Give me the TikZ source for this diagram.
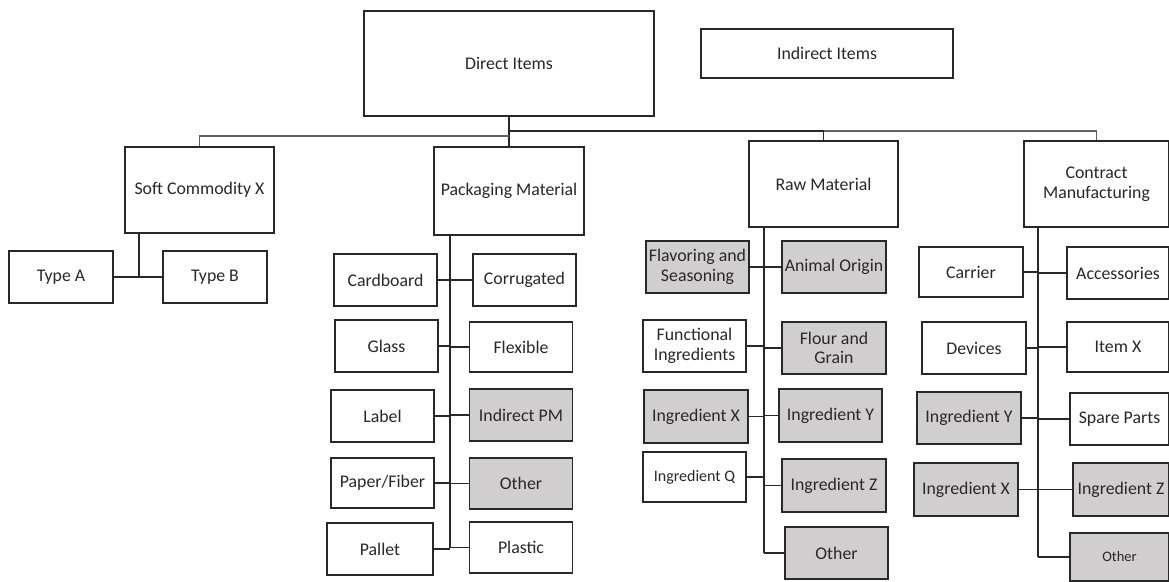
\documentclass[tikz,border=0pt]{standalone}
\usepackage{fontspec}
\setmainfont{Carlito}
\definecolor{boxgray}{RGB}{208,206,206}
\definecolor{ink}{RGB}{40,40,40}
\begin{document}
\begin{tikzpicture}[x=1pt,y=-1pt,
  box/.style={draw=ink, line width=1.2pt, fill=white, minimum width=103pt, minimum height=52pt,
     inner sep=1pt, align=center, text=ink, font=\fontsize{17.8}{19.5}\selectfont},
  shaded/.style={box, fill=boxgray},
  bigbox/.style={box, minimum width=149pt, minimum height=86pt},
  link/.style={draw=ink, line width=1.7pt},
  linkgray/.style={draw=black!62, line width=1.7pt}]
\useasboundingbox (0,0) rectangle (1169,581);
% top level
\node[box, minimum width=290pt, minimum height=105pt] (direct) at (509,63.5) {Direct Items};
\node[box, minimum width=252pt, minimum height=49pt] (indirect) at (827,53.5) {Indirect Items};
% level 2
\node[bigbox] (soft) at (199.5,190) {Soft Commodity X};
\node[bigbox, minimum width=150pt, minimum height=88pt] (pack) at (509,191) {Packaging Material};
\node[bigbox] (raw) at (823.5,184) {Raw Material};
\node[bigbox, minimum width=145pt] (cm) at (1096.5,184) {Contract\\Manufacturing};
% soft commodity children
\node[box, minimum width=104pt] (typeA) at (61,277) {Type A};
\node[box, minimum width=104pt] (typeB) at (215,277) {Type B};
% packaging children
\node[box] (cardboard) at (385.5,280) {Cardboard};
\node[box] (corrugated) at (524.5,280) {Corrugated};
\node[box] (glass) at (386.5,346) {Glass};
\node[box, minimum height=50pt] (flexible) at (521,347) {Flexible};
\node[box] (label) at (382.5,416) {Label};
\node[shaded] (indpm) at (521,415) {Indirect PM};
\node[box, minimum height=50pt] (paper) at (382.5,483) {Paper/Fiber};
\node[shaded, minimum height=51pt] (otherpm) at (521,483.5) {Other};
\node[box, minimum width=106pt] (pallet) at (380,549) {Pallet};
\node[box, minimum height=51pt] (plastic) at (521,547.5) {Plastic};
% raw material children
\node[shaded] (flav) at (697.5,267) {Flavoring and\\Seasoning};
\node[shaded, minimum width=104pt] (animal) at (834,267) {Animal Origin};
\node[box] (func) at (694.5,346) {Functional\\Ingredients};
\node[shaded, minimum width=104pt] (flour) at (834,348) {Flour and\\Grain};
\node[shaded, minimum width=104pt, minimum height=53pt] (ingx) at (696,416.5) {Ingredient X};
\node[shaded, minimum height=53pt] (ingy) at (830.5,415.5) {Ingredient Y};
\node[box, minimum height=50pt, font=\fontsize{16}{18}\selectfont] (ingq) at (694.5,477) {Ingredient Q};
\node[shaded, minimum width=104pt, minimum height=53pt] (ingz) at (834,485.5) {Ingredient Z};
\node[shaded] (otherrm) at (836.5,553) {Other};
% contract manufacturing children
\node[box, minimum width=104pt, minimum height=50pt] (carrier) at (971,272) {Carrier};
\node[box, minimum width=102pt] (access) at (1118,273) {Accessories};
\node[box, minimum width=104pt] (devices) at (974,348) {Devices};
\node[box, minimum width=102pt, minimum height=50pt] (itemx) at (1118,347) {Item X};
\node[shaded, minimum width=104pt] (cmingy) at (969,418) {Ingredient Y};
\node[box, minimum width=99pt] (spare) at (1119.5,419) {Spare Parts};
\node[shaded, minimum width=104pt, minimum height=53pt] (cmingx) at (966,489.5) {Ingredient X};
\node[shaded, minimum width=96pt, minimum height=53pt] (cmingz) at (1121,489.5) {Ingredient Z};
\node[shaded, minimum width=99pt, minimum height=48pt, font=\fontsize{14.5}{16}\selectfont] (othercm) at (1119.5,557) {Other};
% junction coordinates
\coordinate (busR) at (509,131);
\coordinate (busL) at (509,136);
\coordinate (softJ) at (139,278);
\coordinate (pmT) at (450,0);
\coordinate (rmT) at (764,0);
\coordinate (cmT) at (1038,0);
% top connectors
\draw[link] (direct.south) -- (pack.north);
\draw[link] (busR) -| (raw.north);
\draw[linkgray] (raw.north |- busR) -| (cm.north);
\draw[linkgray] (busL) -| (soft.north);
% soft commodity
\draw[link] (softJ |- soft.south) -- (softJ);
\draw[link] (typeA.east) -- (typeB.west);
% packaging trunk and branches
\draw[link] (pmT |- pack.south) -- (pmT |- plastic.west);
\foreach \n in {cardboard,glass,label,paper,pallet}{\draw[link] (\n.east) -- (\n.east -| pmT);}
\foreach \n in {corrugated,flexible,indpm,otherpm,plastic}{\draw[link] (pmT |- \n.west) -- (\n.west);}
% raw material trunk and branches
\draw[link] (rmT |- raw.south) -- (rmT |- otherrm.west);
\foreach \n in {flav,func,ingx,ingq}{\draw[link] (\n.east) -- (\n.east -| rmT);}
\foreach \n in {animal,flour,ingy,ingz,otherrm}{\draw[link] (rmT |- \n.west) -- (\n.west);}
% contract manufacturing trunk and branches
\draw[link] (cmT |- cm.south) -- (cmT |- othercm.west);
\foreach \n in {carrier,devices,cmingy,cmingx}{\draw[link] (\n.east) -- (\n.east -| cmT);}
\foreach \n in {access,itemx,spare,cmingz,othercm}{\draw[link] (cmT |- \n.west) -- (\n.west);}
\end{tikzpicture}
\end{document}
